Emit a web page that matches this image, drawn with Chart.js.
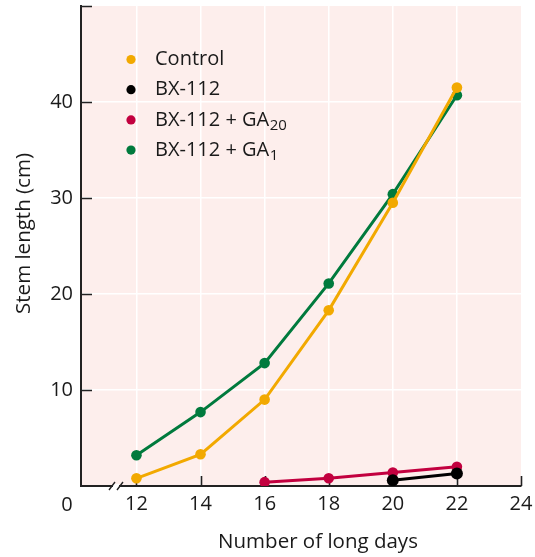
<!DOCTYPE html>
<html>
<head>
<meta charset="utf-8">
<script src="https://cdn.jsdelivr.net/npm/chart.js@4"></script>
<style>
  html, body { margin: 0; padding: 0; background: #ffffff; }
  #wrap { width: 535px; height: 557px; position: relative; }
</style>
</head>
<body>
<div id="wrap"><canvas id="c"></canvas></div>
<script>
// ---- data ----
const days = [12, 14, 16, 18, 20, 22];
const controlValues = [0.8, 3.3, 9.0, 18.3, 29.5, 41.5];
const bx112Days = [20, 22];
const bx112Values = [0.6, 1.3];
const ga20Days = [16, 18, 20, 22];
const ga20Values = [0.4, 0.8, 1.4, 2.0];
const ga1Values = [3.2, 7.7, 12.8, 21.1, 30.4, 40.7];
const xTickValues = [12, 14, 16, 18, 20, 22, 24];
const yTickValues = [10, 20, 30, 40];
const seriesLabels = ['Control', 'BX-112', 'BX-112 + GA\u2082\u2080', 'BX-112 + GA\u2081'];
const legendMain = ['Control', 'BX-112', 'BX-112 + GA', 'BX-112 + GA'];
const legendSub = ['', '', '20', '1'];
const xTitle = 'Number of long days';
const yTitle = 'Stem length (cm)';
const originLabel = '0';

const colors = ['#f2a900', '#000000', '#c2003f', '#007a3d'];
const FONT = '"Open Sans", "DejaVu Sans", sans-serif';
const TEXT = '#1a1a1a';

const toPts = (xs, ys) => xs.map((x, i) => ({ x: x, y: ys[i] }));

const datasets = [
  { label: seriesLabels[0], data: toPts(days, controlValues) },
  { label: seriesLabels[1], data: toPts(bx112Days, bx112Values) },
  { label: seriesLabels[2], data: toPts(ga20Days, ga20Values) },
  { label: seriesLabels[3], data: toPts(days, ga1Values) }
].map((d, i) => Object.assign(d, {
  borderColor: colors[i],
  backgroundColor: colors[i],
  pointBackgroundColor: colors[i],
  pointBorderWidth: 0,
  pointRadius: i === 1 ? 6 : 5.3,
  borderWidth: 3,
  tension: 0
}));

const decor = {
  id: 'decor',
  beforeDraw(chart) {
    const { ctx, chartArea: a } = chart;
    ctx.save();
    ctx.fillStyle = '#fdeeec';
    ctx.fillRect(a.left, a.top, a.right - a.left, a.bottom - a.top);
    ctx.restore();
  },
  beforeDatasetsDraw(chart) {
    const { ctx, chartArea: a, scales } = chart;
    ctx.save();
    ctx.strokeStyle = '#222';
    ctx.lineWidth = 1.6;
    ctx.beginPath();
    xTickValues.forEach(v => {
      const x = Math.round(scales.x.getPixelForValue(v)) + 0.5;
      ctx.moveTo(x, a.bottom);
      ctx.lineTo(x, a.bottom - 10);
    });
    [10, 20, 30, 40, 50].forEach(v => {
      const y = Math.round(scales.y.getPixelForValue(v)) + 0.5;
      ctx.moveTo(a.left, y);
      ctx.lineTo(a.left + 11, y);
    });
    ctx.stroke();
    ctx.restore();
  },
  afterDraw(chart) {
    const { ctx, chartArea: a } = chart;
    ctx.save();
    // axis break
    const bx = 116, by = a.bottom;
    ctx.fillStyle = '#ffffff';
    ctx.fillRect(bx - 3, by - 2, 6, 4);
    ctx.strokeStyle = '#222';
    ctx.lineWidth = 1.4;
    ctx.beginPath();
    ctx.moveTo(bx - 7, by + 4); ctx.lineTo(bx - 1, by - 4);
    ctx.moveTo(bx + 1, by + 4); ctx.lineTo(bx + 7, by - 4);
    ctx.stroke();

    ctx.fillStyle = TEXT;
    ctx.textAlign = 'center';
    ctx.textBaseline = 'alphabetic';
    // origin label
    ctx.font = '20px ' + FONT;
    ctx.fillText(originLabel, 67, 511);
    // x title
    ctx.font = '20.5px ' + FONT;
    ctx.fillText(xTitle, 318, 548);
    // y title
    ctx.save();
    ctx.translate(29.5, 233.5);
    ctx.rotate(-Math.PI / 2);
    ctx.fillText(yTitle, 0, 0);
    ctx.restore();

    // legend
    ctx.textBaseline = 'middle';
    const lx = 131, ly0 = 59.5, dy = 30.2;
    legendMain.forEach((t, i) => {
      const y = ly0 + i * dy;
      ctx.fillStyle = colors[i];
      ctx.beginPath();
      ctx.arc(lx, y, 4.6, 0, Math.PI * 2);
      ctx.fill();
      ctx.fillStyle = TEXT;
      ctx.textAlign = 'left';
      ctx.font = '20px ' + FONT;
      ctx.fillText(t, 155, y);
      if (legendSub[i]) {
        const w = ctx.measureText(t).width;
        ctx.font = '15px ' + FONT;
        ctx.fillText(legendSub[i], 155 + w + 0.5, y + 6);
      }
    });
    ctx.restore();
  }
};

new Chart(document.getElementById('c'), {
  type: 'line',
  data: { datasets },
  options: {
    responsive: true,
    maintainAspectRatio: false,
    animation: false,
    layout: { padding: { top: 6, right: 14, left: 0, bottom: 0 } },
    plugins: { legend: { display: false }, tooltip: { enabled: false } },
    scales: {
      x: {
        type: 'linear',
        min: 10.27,
        max: 24,
        afterBuildTicks: s => { s.ticks = xTickValues.map(v => ({ value: v })); },
        afterFit: s => { s.height = 71; s.paddingLeft = 0; s.paddingRight = 0; },
        ticks: {
          autoSkip: false, maxRotation: 0, padding: 6,
          color: TEXT, font: { family: FONT, size: 20 },
          callback: v => String(v)
        },
        grid: {
          drawTicks: false,
          lineWidth: 1.5,
          color: c => (c.tick && c.tick.value >= 12 && c.tick.value <= 22) ? '#ffffff' : 'rgba(0,0,0,0)'
        },
        border: { color: '#222', width: 2 }
      },
      y: {
        type: 'linear',
        min: 0,
        max: 50,
        afterBuildTicks: s => { s.ticks = [0].concat(yTickValues, [50]).map(v => ({ value: v })); },
        afterFit: s => { s.width = 81; s.paddingTop = 0; s.paddingBottom = 0; },
        ticks: {
          padding: 8,
          color: TEXT, font: { family: FONT, size: 20 },
          callback: v => yTickValues.includes(v) ? String(v) : ''
        },
        grid: {
          drawTicks: false,
          lineWidth: 1.5,
          color: c => (c.tick && yTickValues.includes(c.tick.value)) ? '#ffffff' : 'rgba(0,0,0,0)'
        },
        border: { color: '#222', width: 2 }
      }
    }
  },
  plugins: [decor]
});
</script>
</body>
</html>
